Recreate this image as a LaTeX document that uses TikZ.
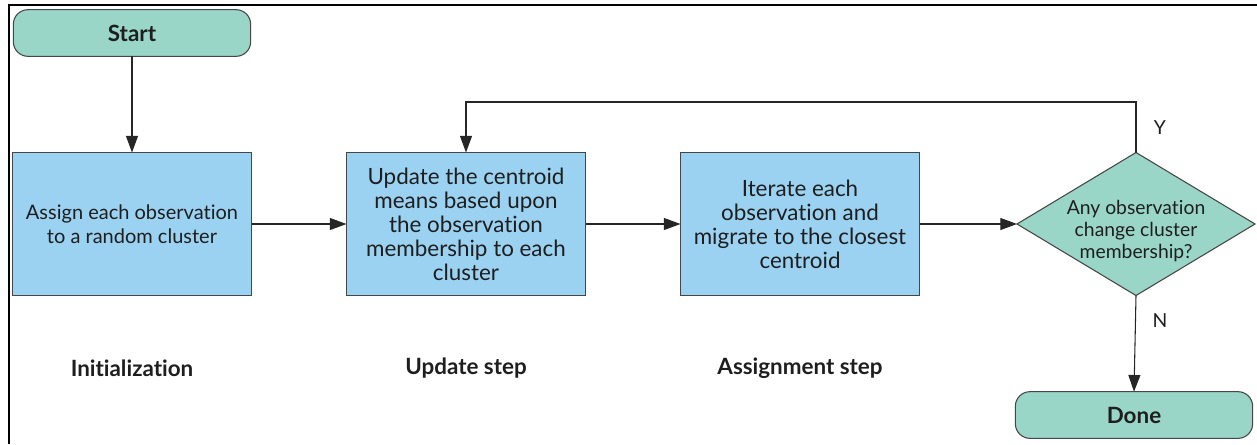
\documentclass[tikz,border=0pt]{standalone}
\usepackage{fontspec}
\setmainfont{Lato}[Ligatures=NoCommon]
\usetikzlibrary{arrows.meta,shapes.geometric}
\definecolor{termfill}{RGB}{154,214,200}
\definecolor{procfill}{RGB}{155,210,242}
\definecolor{edgegray}{RGB}{70,70,70}
\definecolor{txt}{RGB}{30,30,30}
\begin{document}
\begin{tikzpicture}[x=0.75pt,y=-0.75pt,
  every node/.style={inner sep=0pt, outer sep=0pt, text=txt},
  term/.style={draw=edgegray, line width=0.8pt, fill=termfill, rounded corners=11pt,
    minimum width=178pt, minimum height=35pt, font=\fontsize{16.8}{20}\selectfont\bfseries},
  proc/.style={draw=edgegray, line width=0.8pt, fill=procfill,
    minimum width=179.25pt, minimum height=107.25pt, align=center,
    font=\fontsize{16.8}{18}\selectfont},
  smallproc/.style={proc, font=\fontsize{15}{18}\selectfont},
  decision/.style={draw=edgegray, line width=0.8pt, fill=termfill, diamond,
    minimum width=178.5pt, minimum height=107.25pt},
  body/.style={align=center, font=\fontsize{14.5}{16.5}\selectfont},
  steplabel/.style={font=\fontsize{16.8}{20}\selectfont\bfseries},
  yn/.style={font=\fontsize{14.5}{17}\selectfont},
  conn/.style={draw=black!85, line width=0.8pt, -{Triangle[length=12.5pt,width=9pt]}}
]
\useasboundingbox (0,0) rectangle (1257,444);
\draw[line width=2.2pt] (1257,5) -- (9,5) -- (9,444);

\node[term] (start) at (132,33) {Start};
\node[smallproc] (init) at (132,224) {Assign each observation\\to a random cluster};
\node[proc] (upd) at (466,224) {Update the centroid\\means based upon\\the observation\\membership to each\\cluster};
\node[proc] (asg) at (800,224) {Iterate each\\observation and\\migrate to the closest\\centroid};
\node[decision] (dec) at (1136,224) {};
\node[body] (dectext) at (1136,231) {Any observation\\change cluster\\membership?};
\node[term] (done) at (1134,415) {Done};

\coordinate (loop) at (1136,102);

\node[steplabel] (l1) at (132,368) {Initialization};
\node[steplabel] (l2) at (466,368) {Update step};
\node[steplabel] (l3) at (800,368) {Assignment step};
\node[yn] (ylab) at (1160,128) {Y};
\node[yn] (nlab) at (1160,321) {N};

\draw[conn] (start.south) -- (init.north);
\draw[conn] (init.east) -- (upd.west);
\draw[conn] (upd.east) -- (asg.west);
\draw[conn] (asg.east) -- (dec.west);
\draw[conn] (dec.south) -- (done.north);
\draw[conn] (dec.north) -- (loop) -| (upd.north);
\end{tikzpicture}
\end{document}
